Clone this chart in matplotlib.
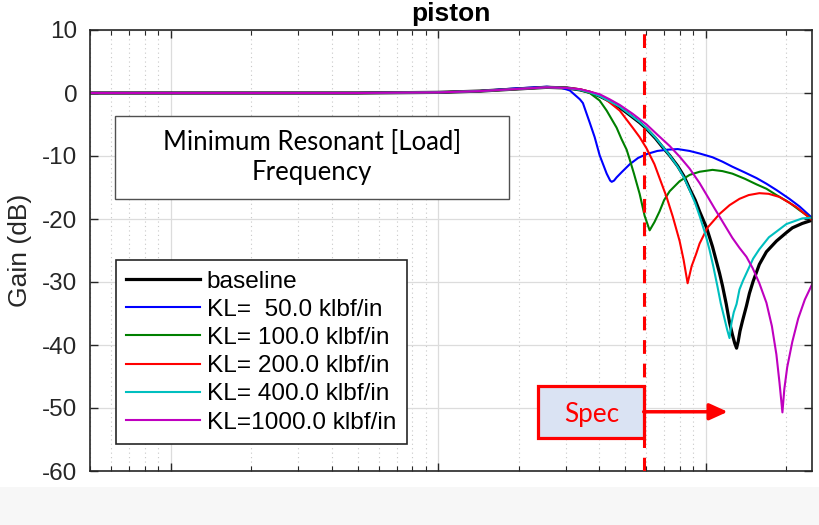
import numpy as np
import matplotlib.pyplot as plt
from matplotlib.patches import Rectangle
from matplotlib.ticker import LogLocator, NullFormatter, MultipleLocator

plt.rcParams['font.family'] = ['Liberation Sans', 'DejaVu Sans']
plt.rcParams['axes.unicode_minus'] = False

# Frequency response of the piston for several load stiffnesses (Hz, dB)
f_base = [0.5, 2, 5, 10, 14.3, 19, 25.5, 30.3, 33.9, 37.0, 40.2, 43.8, 47.8, 52.1, 56.7,
          60.2, 65.0, 69.1, 73.4, 78.7, 83.0, 87.2, 91.5, 95.0, 100.9, 106.2, 112.8, 115.7,
          119.5, 122.9, 126.1, 128.5, 130.6, 132.5, 134.5, 137.4, 142.2, 145.9, 150.6, 158.9,
          168.9, 184.1, 200.0, 211.2, 230.0, 250.0]
g_base = [0, 0, 0, 0.1, 0.3, 0.6, 0.9, 0.8, 0.5, 0.1, -0.5, -1.3, -2.3, -3.5, -4.7,
          -5.7, -7.2, -8.6, -9.9, -11.6, -13.2, -15.2, -17.0, -18.8, -21.4, -24.4, -28.6, -30.6,
          -33.5, -36.4, -38.4, -39.7, -40.5, -39.4, -37.8, -36.2, -33.8, -31.8, -29.9, -27.2,
          -25.2, -23.5, -22.2, -21.4, -20.7, -20.2]

f_kl50 = [0.5, 2, 5, 10, 14.3, 19, 25.5, 29.0, 31.1, 33.9, 34.8, 36.9, 38.5, 40.2, 42.7,
          44.0, 44.6, 45.5, 46.5, 48.5, 52.1, 56.0, 60.2, 66.0, 72.0, 78.7, 87.2, 95.0,
          106.2, 115.7, 126.0, 140.0, 155.0, 168.9, 184.1, 205.8, 224.4, 250.0]
g_kl50 = [0, 0, 0, 0.1, 0.3, 0.7, 1.0, 0.8, 0.4, -1.0, -1.6, -4.7, -7.0, -9.9, -12.8,
          -13.9, -14.1, -13.9, -13.4, -12.6, -11.3, -10.3, -9.7, -9.2, -9.0, -8.9, -9.2, -9.6,
          -10.2, -10.9, -11.7, -12.6, -13.5, -14.4, -15.4, -16.8, -18.0, -19.8]

f_kl100 = [0.5, 2, 5, 10, 14.3, 19, 25.5, 30.3, 33.9, 36.9, 40.2, 42.7, 46.5, 48.5, 50.7,
           52.1, 54.0, 56.7, 59.2, 61.8, 64.4, 67.3, 70.0, 73.4, 80.0, 87.2, 95.0, 106.2,
           115.7, 126.0, 140.0, 155.0, 168.9, 184.1, 205.8, 224.4, 250.0]
g_kl100 = [0, 0, 0, 0.1, 0.3, 0.6, 0.9, 0.8, 0.5, 0.0, -1.2, -2.8, -5.5, -7.3, -9.0,
           -10.6, -12.8, -16.0, -19.5, -21.8, -20.5, -18.8, -17.0, -15.6, -14.0, -13.0, -12.5,
           -12.2, -12.4, -12.8, -13.6, -14.5, -15.2, -16.2, -17.4, -18.6, -20.0]

f_kl200 = [0.5, 2, 5, 10, 14.3, 19, 25.5, 30.3, 33.9, 37.0, 40.2, 43.8, 47.8, 53.4, 56.7,
           60.2, 64.4, 67.3, 71.5, 75.4, 80.0, 82.8, 85.7, 88.7, 92.3, 95.0, 101.6, 112.8,
           123.0, 133.9, 145.0, 158.9, 172.0, 188.9, 205.0, 218.6, 235.0, 250.0]
g_kl200 = [0, 0, 0, 0.1, 0.3, 0.6, 0.9, 0.8, 0.6, 0.2, -0.3, -1.5, -2.8, -5.5, -7.0,
           -8.8, -11.3, -13.5, -16.5, -19.6, -23.5, -26.5, -30.2, -27.5, -25.5, -23.9, -21.4,
           -19.2, -17.8, -16.8, -16.2, -15.9, -16.0, -16.5, -17.4, -18.1, -19.2, -20.2]

f_kl400 = [0.5, 2, 5, 10, 14.3, 19, 25.5, 30.3, 33.9, 37.0, 40.2, 43.8, 47.8, 52.1, 56.7,
           60.2, 65.0, 69.1, 73.4, 78.7, 83.0, 87.2, 91.5, 95.0, 100.0, 103.5, 107.0, 110.9,
           114.0, 117.7, 120.5, 122.9, 125.0, 127.5, 130.6, 133.9, 138.0, 142.2, 150.6, 158.9,
           172.5, 184.1, 200.6, 230.0, 250.0]
g_kl400 = [0, 0, 0, 0.1, 0.3, 0.6, 0.9, 0.8, 0.5, 0.1, -0.5, -1.3, -2.2, -3.4, -4.6,
           -5.6, -7.1, -8.5, -9.9, -11.7, -13.4, -15.4, -17.5, -19.5, -22.5, -24.9, -27.6, -30.8,
           -33.4, -35.8, -37.6, -38.9, -36.5, -34.8, -33.5, -31.2, -29.8, -28.6, -26.3, -24.8,
           -22.9, -22.0, -20.8, -19.9, -19.8]

f_kl1000 = [0.5, 2, 5, 10, 14.3, 19, 25.5, 30.3, 33.9, 37.0, 40.2, 43.8, 47.8, 53.4, 60.2,
            66.0, 73.4, 80.0, 87.2, 95.0, 101.0, 108.0, 115.7, 126.0, 134.0, 142.2, 150.0,
            158.9, 168.9, 177.0, 184.0, 189.0, 193.8, 197.0, 202.0, 211.0, 222.0, 235.0, 250.0]
g_kl1000 = [0, 0, 0, 0.1, 0.3, 0.6, 0.9, 0.8, 0.6, 0.2, -0.2, -1.0, -1.9, -3.3, -5.0,
            -6.6, -8.4, -10.1, -12.0, -14.3, -16.2, -18.3, -20.4, -23.0, -24.6, -26.0, -27.8,
            -30.2, -33.3, -37.0, -41.5, -46.0, -50.7, -47.0, -43.5, -39.5, -35.8, -32.8, -30.4]

labels = ['baseline', 'KL=  50.0 klbf/in', 'KL= 100.0 klbf/in', 'KL= 200.0 klbf/in',
          'KL= 400.0 klbf/in', 'KL=1000.0 klbf/in']
colors = ['black', '#0000ff', '#008000', '#ff0000', '#00bfbf', '#bf00bf']
widths = [2.3, 1.5, 1.5, 1.5, 1.5, 1.5]

f_spec = 58.7   # spec frequency (Hz)

fig = plt.figure(figsize=(8.2, 5.25), dpi=100)
fig.patches.append(Rectangle((0, 0), 1, 38 / 525, transform=fig.transFigure,
                             facecolor='#f7f7f7', edgecolor='none', zorder=0))
ax = fig.add_axes([90 / 820, 1 - 471 / 525, 722 / 820, 441 / 525])

series = [(f_base, g_base), (f_kl50, g_kl50), (f_kl100, g_kl100), (f_kl200, g_kl200),
          (f_kl400, g_kl400), (f_kl1000, g_kl1000)]
for (f, g), lab, c, lw in zip(series, labels, colors, widths):
    ax.plot(f, g, color=c, lw=lw, label=lab)

ax.set_xscale('log')
ax.set_xlim(0.5, 250)
ax.set_ylim(-60, 10)
ax.yaxis.set_major_locator(MultipleLocator(10))
ax.xaxis.set_major_locator(LogLocator(base=10, numticks=10))
ax.xaxis.set_minor_locator(LogLocator(base=10, subs=np.arange(2, 10), numticks=10))
ax.xaxis.set_minor_formatter(NullFormatter())
ax.tick_params(which='both', direction='in', top=True, right=True, labelbottom=False,
               color='#262626')
ax.tick_params(which='major', length=6, width=1)
ax.tick_params(which='minor', length=3.5, width=0.8)
ax.tick_params(axis='y', labelsize=17.5, pad=9, labelcolor='#262626')
ax.grid(True, which='major', color='#dcdcdc', lw=0.9)
ax.grid(True, which='minor', axis='x', color='#c8c8c8', ls=(0, (1, 3)), lw=0.8)
ax.set_axisbelow(True)
for s in ax.spines.values():
    s.set_color('#262626')
    s.set_linewidth(1.2)

ax.set_ylabel('Gain (dB)', fontsize=19, color='#262626')
ax.yaxis.set_label_coords(-0.08, 0.5)
fig.text(451 / 820, 1 - 21 / 525, 'piston', ha='center', va='baseline',
         fontsize=19, fontweight='bold')

# spec line and marker
ax.axvline(f_spec, color='red', lw=2.2, ls=(0, (4.5, 3.2)), zorder=3)
ax.add_patch(Rectangle((23.6, -54.8), f_spec - 23.6, 8.3, facecolor='#dae3f3',
                       edgecolor='red', lw=2.3, zorder=4))
ax.text(37.6, -51.0, 'Spec', color='red', fontsize=18.8, family=['Lato', 'DejaVu Sans'],
        ha='center', va='center', zorder=5)
ax.annotate('', xy=(121, -50.6), xytext=(f_spec, -50.6), zorder=5,
            arrowprops=dict(arrowstyle='-|>,head_length=0.55,head_width=0.25',
                            color='red', lw=2.5, mutation_scale=20, shrinkA=0, shrinkB=0))

# note box
ax.add_patch(Rectangle((0.035, 0.617), 0.545, 0.188, transform=ax.transAxes,
                       facecolor='white', edgecolor='#505050', lw=1.0, zorder=4))
ax.text(0.3075, 0.711, 'Minimum Resonant [Load]\nFrequency', transform=ax.transAxes,
        ha='center', va='center', fontsize=18.5, family=['Lato', 'DejaVu Sans'],
        linespacing=1.25, zorder=5)

leg = ax.legend(loc='upper left', bbox_to_anchor=(0.036, 0.478), fontsize=17.6,
                handlelength=3.0, handletextpad=0.3, labelspacing=0.25, borderpad=0.42,
                fancybox=False, edgecolor='#262626', framealpha=1, borderaxespad=0)
leg.get_frame().set_linewidth(1.2)

fig.savefig('out.png', dpi=100)
